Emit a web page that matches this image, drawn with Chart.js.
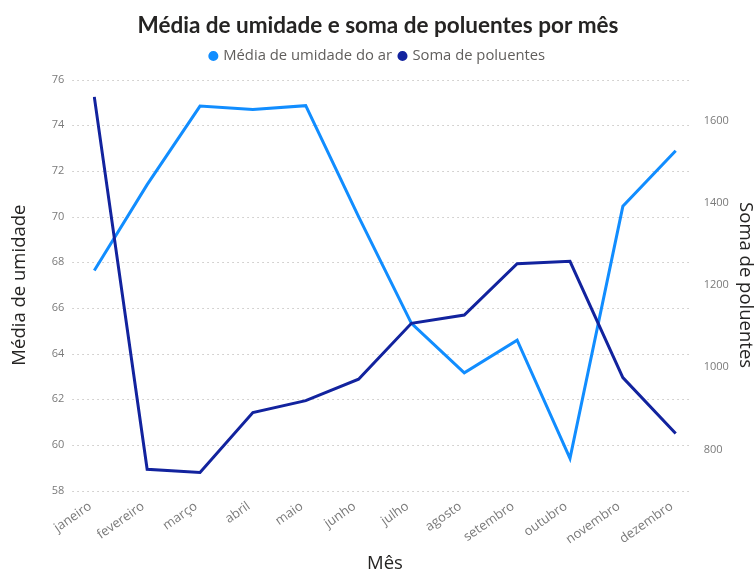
<!DOCTYPE html>
<html>
<head>
<meta charset="utf-8">
<script src="https://cdn.jsdelivr.net/npm/chart.js@4"></script>
<style>
  body { margin: 0; background: #fff; }
</style>
</head>
<body>
<canvas id="chart" width="756" height="575"></canvas>
<script>
// dados
var meses = ['janeiro', 'fevereiro', 'março', 'abril', 'maio', 'junho', 'julho', 'agosto', 'setembro', 'outubro', 'novembro', 'dezembro'];
var umidade = [67.64, 71.4, 74.84, 74.69, 74.86, 70.0, 65.32, 63.16, 64.59, 59.41, 70.45, 72.88];
var poluentes = [1658, 752, 744, 890, 919, 971, 1107, 1127, 1252, 1258, 975, 839];
var ticksUmidade = [58, 60, 62, 64, 66, 68, 70, 72, 74, 76];
var ticksPoluentes = [800, 1000, 1200, 1400, 1600];

// grade pontilhada um pouco mais larga que a área do gráfico
var gradePontilhada = {
  id: 'gradePontilhada',
  beforeDatasetsDraw: function(chart) {
    var ctx = chart.ctx;
    var area = chart.chartArea;
    var y = chart.scales.y;
    ctx.save();
    ctx.strokeStyle = '#c8c6c4';
    ctx.lineWidth = 1;
    ctx.setLineDash([1.5, 3.5]);
    y.ticks.forEach(function(t, i) {
      var py = Math.round(y.getPixelForTick(i)) + 0.5;
      ctx.beginPath();
      ctx.moveTo(area.left - 22, py);
      ctx.lineTo(area.right + 16, py);
      ctx.stroke();
    });
    ctx.restore();
  }
};

var ctx = document.getElementById('chart');

var chartData = {
  labels: meses,
  datasets: [{
    label: 'Média de umidade do ar',
    data: umidade,
    yAxisID: 'y',
    borderColor: '#118DFF',
    backgroundColor: '#118DFF',
    borderWidth: 3,
    pointRadius: 0,
    lineTension: 0,
    fill: false,
    order: 1
  }, {
    label: 'Soma de poluentes',
    data: poluentes,
    yAxisID: 'y1',
    borderColor: '#12239E',
    backgroundColor: '#12239E',
    borderWidth: 3,
    pointRadius: 0,
    lineTension: 0,
    fill: false,
    order: 0
  }]
};

var corTick = '#7a7a7a';
var corTitulo = '#252423';

var options = {
  responsive: false,
  animation: false,
  layout: { padding: 0 },
  plugins: {
    title: {
      display: true,
      text: 'Média de umidade e soma de poluentes por mês',
      color: corTitulo,
      font: { family: 'Lato', size: 22.5, weight: 'bold' },
      padding: { top: 12, bottom: 1.6 }
    },
    // espaço vazio entre a legenda e o gráfico
    subtitle: {
      display: true,
      text: ' ',
      weight: 500,
      font: { size: 1 },
      padding: { top: 0, bottom: 5 }
    },
    legend: {
      display: true,
      position: 'top',
      labels: {
        usePointStyle: true,
        pointStyle: 'circle',
        boxWidth: 5,
        boxHeight: 5,
        padding: 8,
        color: '#605E5C',
        font: { family: 'Open Sans', size: 14.8 },
        sort: function(a, b) { return a.datasetIndex - b.datasetIndex; }
      }
    },
    tooltip: { enabled: false }
  },
  scales: {
    x: {
      type: 'category',
      offset: false,
      grid: { display: false },
      border: { display: false },
      ticks: {
        color: corTick,
        font: { family: 'Open Sans', size: 13 },
        maxRotation: 35,
        minRotation: 35,
        padding: 0,
        labelOffset: -4,
        autoSkip: false
      },
      title: {
        display: true,
        text: 'Mês',
        color: corTitulo,
        font: { family: 'Open Sans', size: 18.5 },
        padding: { top: 0, bottom: 0 }
      },
      afterFit: function(s) { s.height = 84.4; }
    },
    y: {
      position: 'left',
      min: 58,
      max: 76,
      grid: { display: false, drawTicks: false },
      border: { display: false },
      afterBuildTicks: function(s) {
        s.ticks = ticksUmidade.map(function(v) { return { value: v }; });
      },
      ticks: {
        color: corTick,
        font: { family: 'Open Sans', size: 11 },
        padding: 30
      },
      title: {
        display: true,
        text: 'Média de umidade',
        color: corTitulo,
        font: { family: 'Open Sans', size: 18.5 },
        padding: { top: 9, bottom: 20 }
      },
      afterFit: function(s) { s.width = 94.3; }
    },
    y1: {
      position: 'right',
      min: 700,
      max: 1700,
      grid: { display: false, drawTicks: false },
      border: { display: false },
      afterBuildTicks: function(s) {
        s.ticks = ticksPoluentes.map(function(v) { return { value: v }; });
      },
      ticks: {
        color: corTick,
        font: { family: 'Open Sans', size: 11 },
        padding: 28,
        callback: function(v) { return String(v); }
      },
      title: {
        display: true,
        text: 'Soma de poluentes',
        color: corTitulo,
        font: { family: 'Open Sans', size: 18.5 },
        padding: { top: 0, bottom: 10 }
      },
      afterFit: function(s) { s.width = 80.3; }
    }
  }
};

var chart = new Chart(ctx, {
  type: 'line',
  data: chartData,
  options: options,
  plugins: [gradePontilhada]
});
</script>
</body>
</html>
